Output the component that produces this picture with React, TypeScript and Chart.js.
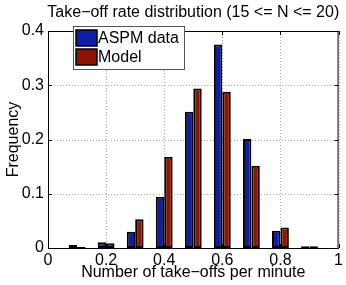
import React, { useEffect, useRef } from "react";
import { Chart, registerables } from "chart.js";

Chart.register(...registerables);

const binCenters = [0.1, 0.2, 0.3, 0.4, 0.5, 0.6, 0.7, 0.8, 0.9];
const aspmData = [0.0055, 0.0105, 0.03, 0.0945, 0.251, 0.375, 0.201, 0.032, 0.003];
const modelData = [0.002, 0.0087, 0.053, 0.168, 0.294, 0.288, 0.1516, 0.038, 0.003];
const seriesNames = ["ASPM data", "Model"];
const seriesColors = ["#0a1ea8", "#8c1400"];
const titleText = "Take\u2212off rate distribution (15 <= N <= 20)";
const xLabel = "Number of take\u2212offs per minute";
const yLabel = "Frequency";

const FONT = '"Liberation Sans", Arial, Helvetica, sans-serif';

const fmt = (v: any) => String(Math.round(Number(v) * 10) / 10);

const gridPlugin = {
  id: "dottedGrid",
  beforeDatasetsDraw(chart: any) {
    const { ctx, chartArea: ca, scales } = chart;
    ctx.save();
    ctx.strokeStyle = "#a8a8a8";
    ctx.lineWidth = 1;
    ctx.setLineDash([1, 2]);
    ctx.beginPath();
    scales.x.ticks.forEach((t: any) => {
      const px = Math.round(scales.x.getPixelForValue(t.value)) + 0.5;
      ctx.moveTo(px, ca.bottom);
      ctx.lineTo(px, ca.top);
    });
    scales.y.ticks.forEach((t: any) => {
      const py = Math.round(scales.y.getPixelForValue(t.value)) + 0.5;
      ctx.moveTo(ca.left, py);
      ctx.lineTo(ca.right, py);
    });
    ctx.stroke();
    ctx.restore();
  },
};

const decorPlugin = {
  id: "decor",
  afterDraw(chart: any) {
    const { ctx, chartArea: ca, scales } = chart;
    ctx.save();
    ctx.strokeStyle = "#000";
    ctx.lineWidth = 1;
    ctx.strokeRect(ca.left + 0.5, ca.top + 0.5, ca.right - ca.left - 1, ca.bottom - ca.top);
    const tl = 4;
    ctx.beginPath();
    scales.x.ticks.forEach((t: any) => {
      const px = Math.round(scales.x.getPixelForValue(t.value)) + 0.5;
      ctx.moveTo(px, ca.bottom);
      ctx.lineTo(px, ca.bottom - tl);
      ctx.moveTo(px, ca.top);
      ctx.lineTo(px, ca.top + tl);
    });
    scales.y.ticks.forEach((t: any) => {
      const py = Math.round(scales.y.getPixelForValue(t.value)) + 0.5;
      ctx.moveTo(ca.left, py);
      ctx.lineTo(ca.left + tl, py);
      ctx.moveTo(ca.right, py);
      ctx.lineTo(ca.right - tl, py);
    });
    ctx.stroke();
    ctx.fillStyle = "#000";
    ctx.font = "16px " + FONT;
    ctx.textAlign = "center";
    ctx.textBaseline = "alphabetic";
    const cx = (ca.left + ca.right) / 2;
    ctx.fillText(titleText, cx, ca.top - 14);
    ctx.fillText(xLabel, cx, ca.bottom + 29);
    ctx.save();
    ctx.translate(18, (ca.top + ca.bottom) / 2);
    ctx.rotate(-Math.PI / 2);
    ctx.fillText(yLabel, 0, 0);
    ctx.restore();
    const lx = ca.left + 25;
    const ly = ca.top - 5;
    const lw = 111;
    const lh = 43;
    ctx.fillStyle = "#fff";
    ctx.fillRect(lx, ly, lw, lh);
    ctx.strokeStyle = "#555";
    ctx.lineWidth = 1;
    ctx.strokeRect(lx + 0.5, ly + 0.5, lw, lh);
    seriesNames.forEach((name, i) => {
      const sy = ly + 4 + i * 19;
      ctx.fillStyle = seriesColors[i];
      ctx.fillRect(lx + 3, sy, 21, 16);
      ctx.strokeStyle = "#000";
      ctx.lineWidth = 1.5;
      ctx.strokeRect(lx + 3, sy, 21, 16);
      ctx.fillStyle = "#000";
      ctx.textAlign = "left";
      ctx.textBaseline = "middle";
      ctx.fillText(name, lx + 25, sy + 8.5);
    });
    ctx.restore();
  },
};

export default function App() {
  const ref = useRef<HTMLCanvasElement | null>(null);
  useEffect(() => {
    document.body.style.margin = "0";
    const canvas = ref.current!;
    const chart = new Chart(canvas, {
      type: "bar",
      data: {
        datasets: [
          {
            label: seriesNames[0],
            data: binCenters.map((x, i) => ({ x, y: aspmData[i] })),
            backgroundColor: seriesColors[0],
            borderColor: "#000",
            borderWidth: 2,
            borderSkipped: false,
          },
          {
            label: seriesNames[1],
            data: binCenters.map((x, i) => ({ x, y: modelData[i] })),
            backgroundColor: seriesColors[1],
            borderColor: "#000",
            borderWidth: 2,
            borderSkipped: false,
          },
        ],
      },
      options: {
        animation: false,
        responsive: false,
        maintainAspectRatio: false,
        datasets: { bar: { barPercentage: 1, categoryPercentage: 0.58 } },
        layout: { padding: { top: 31, left: 0, right: 7, bottom: 0 } },
        plugins: { legend: { display: false }, title: { display: false }, tooltip: { enabled: false } },
        scales: {
          x: {
            type: "linear",
            min: 0,
            max: 1,
            offset: false,
            afterFit: (s: any) => {
              s.height = 37;
            },
            ticks: { stepSize: 0.2, color: "#000", font: { size: 16, family: FONT }, padding: 3, maxRotation: 0, callback: fmt },
            grid: { display: false, drawTicks: false },
            border: { display: false },
          },
          y: {
            min: 0,
            max: 0.4,
            afterFit: (s: any) => {
              s.width = 48;
            },
            ticks: { stepSize: 0.1, color: "#000", font: { size: 16, family: FONT }, padding: 4, callback: fmt },
            grid: { display: false, drawTicks: false },
            border: { display: false },
          },
        },
      },
      plugins: [gridPlugin, decorPlugin],
    } as any);
    return () => chart.destroy();
  }, []);
  return <canvas ref={ref} width={346} height={285} style={{ display: "block", width: 346, height: 285 }} />;
}
